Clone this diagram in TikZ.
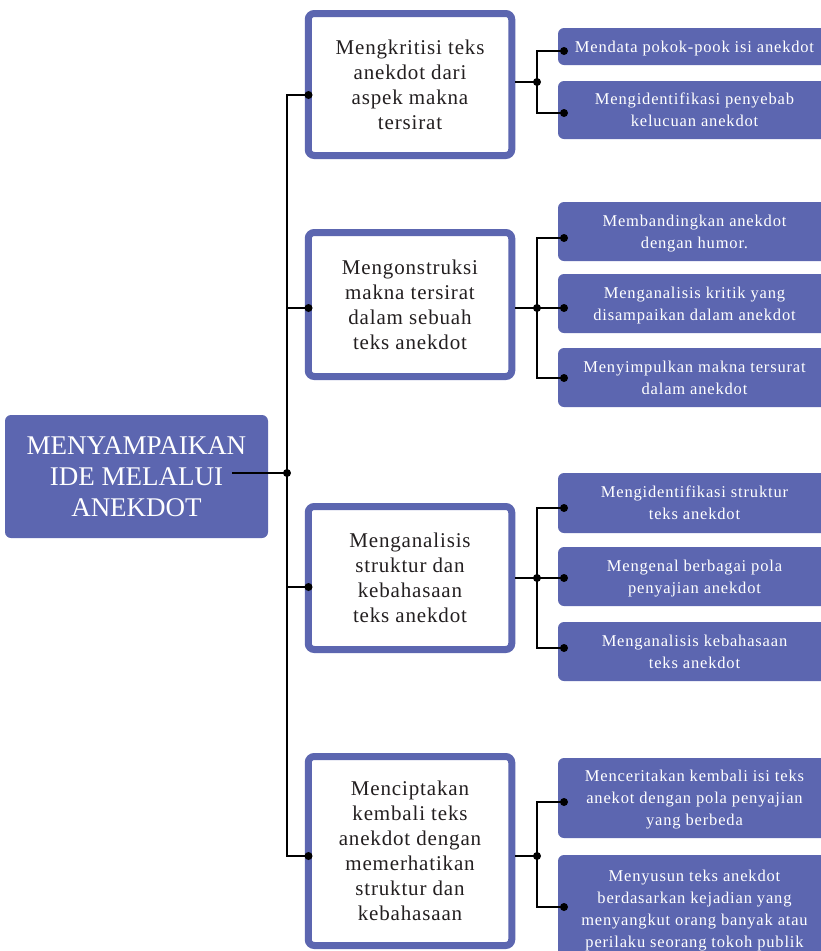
\documentclass[tikz,border=0pt]{standalone}
\usepackage{fontspec}
\setmainfont{Liberation Serif}
\newfontfamily\midfont[LetterSpace=4]{Liberation Serif}
\newfontfamily\leaffont[LetterSpace=5]{Liberation Serif}
\definecolor{bl}{RGB}{92,102,176}
\definecolor{ink}{RGB}{35,31,32}
\begin{document}
\begin{tikzpicture}[x=1pt,y=-1pt,
  rootbox/.style={fill=bl, rounded corners=6pt, text=white, align=center, font=\fontsize{27}{31}\selectfont, inner sep=0pt},
  midbox/.style={draw=bl, line width=7pt, fill=white, rounded corners=6pt, align=center, text=ink, font=\midfont\fontsize{21}{25}\selectfont, minimum width=203.5pt, inner sep=0pt},
  leaf/.style={fill=bl, rounded corners=6pt, text=white, align=center, font=\leaffont\fontsize{16.5}{22}\selectfont, minimum width=273pt, inner sep=0pt, text depth=0pt},
  conn/.style={line width=2pt, draw=black},
  dotc/.style={fill=black}
]
\useasboundingbox (0,0) rectangle (821,951);
\fill[white] (0,0) rectangle (821,951);

\node[rootbox, minimum width=263pt, minimum height=123pt] (root) at (136.5,476.5) {MENYAMPAIKAN\\IDE MELALUI\\ANEKDOT};

\node[midbox, minimum height=142pt] (m1) at (410,84.5) {Mengkritisi teks\\anekdot dari\\aspek makna\\tersirat};
\node[midbox, minimum height=144pt] (m2) at (410,304.5) {Mengonstruksi\\makna tersirat\\dalam sebuah\\teks anekdot};
\node[midbox, minimum height=143pt] (m3) at (410,578) {Menganalisis\\struktur dan\\kebahasaan\\teks anekdot};
\node[midbox, minimum height=189pt] (m4) at (410,851) {Menciptakan\\kembali teks\\anekdot dengan\\memerhatikan\\struktur dan\\kebahasaan};

\node[leaf, minimum height=37pt] (r11) at (694.5,46.5) {Mendata pokok-pook isi anekdot};
\node[leaf, minimum height=58pt] (r12) at (694.5,110) {Mengidentifikasi penyebab\\kelucuan anekdot};
\node[leaf, minimum height=59pt] (r21) at (694.5,231.5) {Membandingkan anekdot\\dengan humor.};
\node[leaf, minimum height=59pt] (r22) at (694.5,303.5) {Menganalisis kritik yang\\disampaikan dalam anekdot};
\node[leaf, minimum height=59pt] (r23) at (694.5,377.5) {Menyimpulkan makna tersurat\\dalam anekdot};
\node[leaf, minimum height=60pt] (r31) at (694.5,503) {Mengidentifikasi struktur\\teks anekdot};
\node[leaf, minimum height=59pt] (r32) at (694.5,576.5) {Mengenal berbagai pola\\penyajian anekdot};
\node[leaf, minimum height=59pt] (r33) at (694.5,651.5) {Menganalisis kebahasaan\\teks anekdot};
\node[leaf, minimum height=80pt] (r41) at (694.5,798) {Menceritakan kembali isi teks\\anekot dengan pola penyajian\\yang berbeda};
\node[leaf, minimum height=108pt] (r42) at (694.5,909) {Menyusun teks anekdot\\berdasarkan kejadian yang\\menyangkut orang banyak atau\\perilaku seorang tokoh publik};

\coordinate (J0) at (287,473);
\coordinate (R0) at (232,473);
\coordinate (L1) at (308.5,95);
\coordinate (L2) at (308.5,308);
\coordinate (L3) at (308.5,587);
\coordinate (L4) at (308.5,856);
\coordinate (j1) at (537,82);
\coordinate (j2) at (537,308);
\coordinate (j3) at (537,578);
\coordinate (j4) at (537,856);
\coordinate (d11) at (564,51);
\coordinate (d12) at (564,113);
\coordinate (d21) at (564,238);
\coordinate (d22) at (564,308);
\coordinate (d23) at (564,378);
\coordinate (d31) at (564,508);
\coordinate (d32) at (564,578);
\coordinate (d33) at (564,648);
\coordinate (d41) at (564,802);
\coordinate (d42) at (564,907);

\draw[conn] (L1) -| (J0) |- (L4);
\draw[conn] (J0 |- L2) -- (L2);
\draw[conn] (J0 |- L3) -- (L3);
\draw[conn] (R0) -- (J0);

\draw[conn] (m1.east |- j1) -- (j1);
\draw[conn] (d11) -| (j1) |- (d12);
\draw[conn] (m2.east |- j2) -- (d22);
\draw[conn] (d21) -| (j2) |- (d23);
\draw[conn] (m3.east |- j3) -- (d32);
\draw[conn] (d31) -| (j3) |- (d33);
\draw[conn] (m4.east |- j4) -- (j4);
\draw[conn] (d41) -| (j4) |- (d42);

\foreach \p in {J0,L1,L2,L3,L4,j1,j2,j3,j4,d11,d12,d21,d22,d23,d31,d32,d33,d41,d42}
  \fill[dotc] (\p) circle (4pt);
\end{tikzpicture}
\end{document}
